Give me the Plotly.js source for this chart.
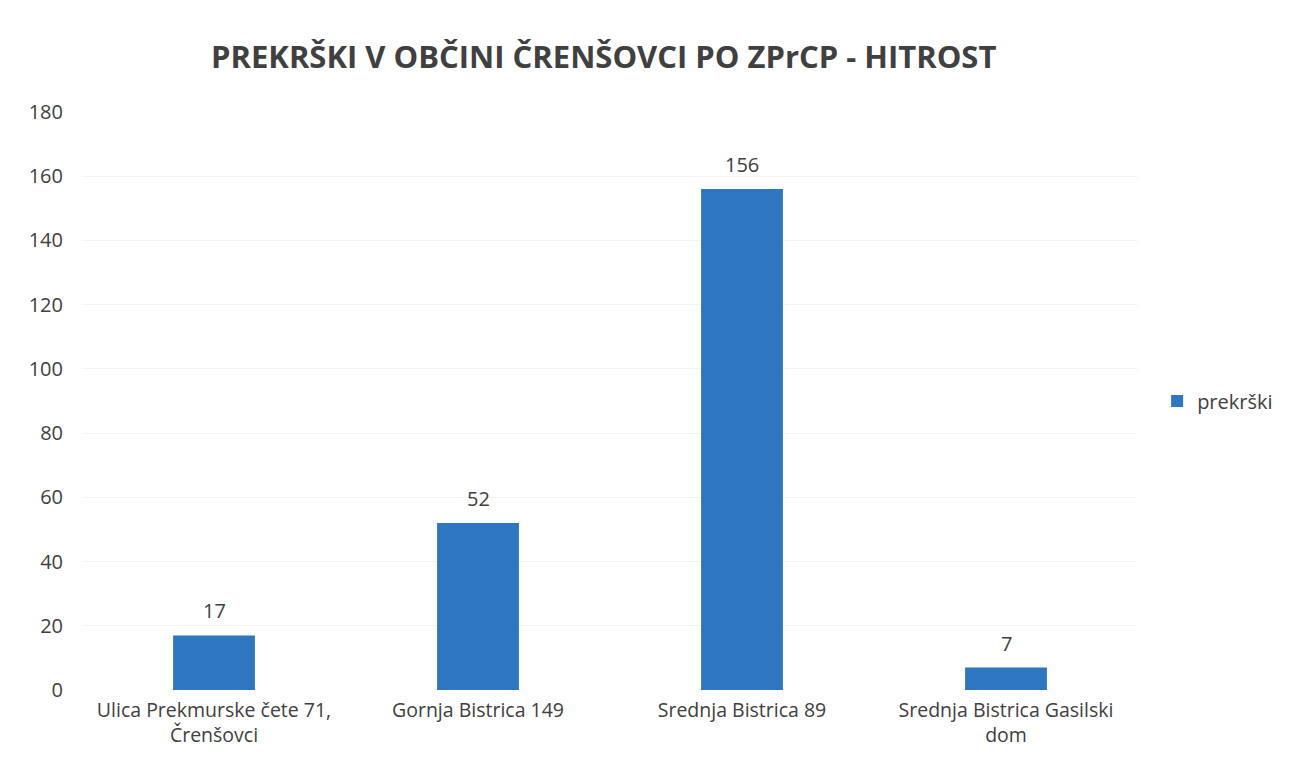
<!DOCTYPE html>
<html><head><meta charset="utf-8">
<script src="https://cdn.plot.ly/plotly-3.0.1.min.js"></script>
<style>html,body{margin:0;padding:0;background:#fff}#c{width:1290px;height:771px}</style>
</head><body><div id="c"></div>
<script>
const categories = ["Ulica Prekmurske čete 71,<br>Črenšovci", "Gornja Bistrica 149", "Srednja Bistrica 89", "Srednja Bistrica Gasilski<br>dom"];
const prekrski = [17, 52, 156, 7];
const seriesName = "prekrški";
const titleText = "PREKRŠKI V OBČINI ČRENŠOVCI PO ZPrCP - HITROST";

const font = "Open Sans, Noto Sans, sans-serif";
const labels = categories.map((c, i) => ({
  x: c, y: prekrski[i], xref: 'x', yref: 'y', text: String(prekrski[i]),
  showarrow: false, yanchor: 'bottom', yshift: 9,
  font: {family: font, size: 20, color: '#404040'}
}));
Plotly.newPlot('c', [{
  type: 'bar', x: categories, y: prekrski, name: seriesName,
  marker: {color: '#2E75C2'}
}], {
  width: 1290, height: 771,
  paper_bgcolor: '#fff', plot_bgcolor: '#fff',
  margin: {l: 82, r: 152, t: 112, b: 81, autoexpand: false},
  bargap: 0.69,
  showlegend: true,
  annotations: labels,
  legend: {xref: 'container', x: 0.897, y: 0.5, xanchor: 'left', yanchor: 'middle', font: {family: font, size: 20, color: '#404040'}, itemwidth: 30},
  title: {text: '<b>' + titleText + '</b>', x: 0.468, xanchor: 'center', y: 0.926, yanchor: 'middle', font: {family: font, size: 31, color: '#404040'}},
  xaxis: {tickfont: {family: font, size: 19.5, color: '#404040'}, showgrid: false, zeroline: false, showline: false, ticks: '', ticklabelstandoff: 6},
  yaxis: {range: [0, 180], dtick: 20, tickfont: {family: font, size: 20, color: '#404040'}, gridcolor: '#f4f4f4', zeroline: false, showline: false, ticklabelstandoff: 18}
}, {displayModeBar: false});
</script></body></html>
